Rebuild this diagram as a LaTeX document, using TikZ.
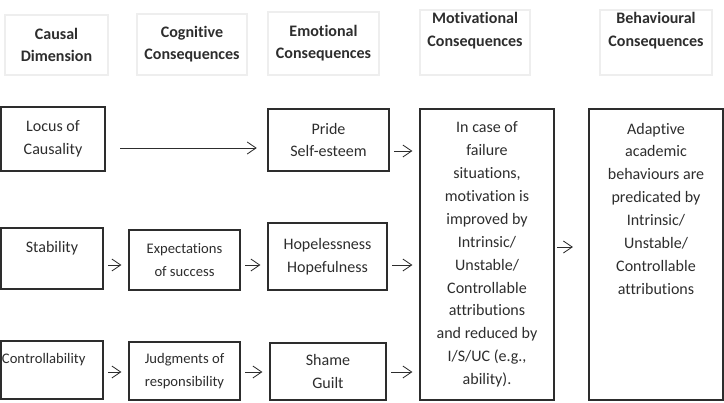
\documentclass[tikz,border=0pt]{standalone}
\usepackage{fontspec}
\setmainfont{Carlito}[Ligatures={NoCommon}, RawFeature={-liga;-dlig}]
\usepackage{xcolor}
\usepackage{tikz}
\usetikzlibrary{arrows.meta}
\definecolor{ink}{RGB}{45,45,45}
\definecolor{frame}{RGB}{238,238,238}

\begin{document}
\begin{tikzpicture}[->, >={Straight Barb[length=2.2mm,width=3mm]},
    every node/.style={font=\fontsize{11.4}{16.3}\selectfont, text=ink, align=center, inner sep=0pt},
    head/.style={draw=frame, line width=1.6pt, font=\fontsize{11.4}{15.8}\selectfont\bfseries},
    box/.style={draw=ink, line width=1.8pt},
    arr/.style={draw=ink, line width=0.6pt, shorten <=3pt, shorten >=4.5pt}]
    \useasboundingbox (0,0) rectangle (18.1,-10.075);
    \node[head, minimum width=2.575cm, minimum height=1.5cm] (hCause) at (1.4125,-1.125) {Causal\\Dimension};
    \node[head, minimum width=2.75cm, minimum height=1.525cm] (hCog) at (4.8,-1.1125) {Cognitive\\Consequences};
    \node[head, minimum width=2.775cm, minimum height=1.575cm] (hEmo) at (8.0875,-1.0875) {Emotional\\Consequences};
    \node[head, minimum width=2.75cm, minimum height=1.625cm] (hMot) at (11.875,-1.0625) {Motivational\\Consequences\\[3pt]};
    \node[head, minimum width=2.8cm, minimum height=1.625cm] (hBeh) at (16.4,-1.0625) {Behavioural\\Consequences\\[3pt]};
    \node[box, minimum width=2.6cm, minimum height=1.6cm] (locus) at (1.325,-3.475) {Locus of\\Causality};
    \node[box, minimum width=3.025cm, minimum height=1.55cm] (pride) at (8.2125,-3.5) {Pride\\Self-esteem};
    \node[box, minimum width=2.55cm, minimum height=1.525cm] (stab) at (1.3,-6.4625) {Stability\\~};
    \node[box, minimum width=2.775cm, minimum height=1.5cm] (expect) at (4.6125,-6.5) {\fontsize{10.4}{15.4}\selectfont Expectations\\\fontsize{10.4}{15.4}\selectfont of success};
    \node[box, minimum width=2.975cm, minimum height=1.675cm] (hope) at (8.1875,-6.4125) {Hopelessness\\Hopefulness};
    \node[box, minimum width=2.55cm, minimum height=1.45cm, text width=2.5cm, align=left] (control) at (1.3,-9.25) {\fontsize{10.4}{15.4}\selectfont Controllability\\~};
    \node[box, minimum width=2.775cm, minimum height=1.45cm] (judge) at (4.6125,-9.275) {\fontsize{10.4}{15.4}\selectfont Judgments of\\\fontsize{10.4}{15.4}\selectfont responsibility};
    \node[box, minimum width=2.9cm, minimum height=1.425cm] (shame) at (8.2,-9.2875) {Shame\\Guilt};
    \node[box, minimum width=3.35cm, minimum height=7.275cm] (motiv) at (12.175,-6.3625) {In case of\\failure\\situations,\\motivation is\\improved by\\Intrinsic/\\Unstable/\\Controllable\\attributions\\and reduced by\\I/S/UC (e.g.,\\ability).};
    \node[box, minimum width=3.35cm, minimum height=7.275cm] (behav) at (16.4,-6.3625) {Adaptive\\academic\\behaviours are\\predicated by\\Intrinsic/\\Unstable/\\Controllable\\attributions\\~\\~\\~\\~};
    \coordinate (r1) at (0,-3.7);
    \coordinate (r1b) at (0,-3.775);
    \coordinate (r2) at (0,-6.625);
    \coordinate (r3) at (0,-9.3);
    \coordinate (rm) at (0,-6.175);
    \draw[arr, shorten <=0.35cm, shorten >=0.25cm] (locus.east |- r1) -- (pride.west |- r1);
    \draw[arr] (pride.east |- r1b) -- (motiv.west |- r1b);
    \draw[arr] (stab.east |- r2) -- (expect.west |- r2);
    \draw[arr] (expect.east |- r2) -- (hope.west |- r2);
    \draw[arr] (hope.east |- r2) -- (motiv.west |- r2);
    \draw[arr] (control.east |- r3) -- (judge.west |- r3);
    \draw[arr] (judge.east |- r3) -- (shame.west |- r3);
    \draw[arr] (shame.east |- r3) -- (motiv.west |- r3);
    \draw[arr, shorten <=1.5pt, shorten >=0.37cm] (motiv.east |- rm) -- (behav.west |- rm);
\end{tikzpicture}
\end{document}
